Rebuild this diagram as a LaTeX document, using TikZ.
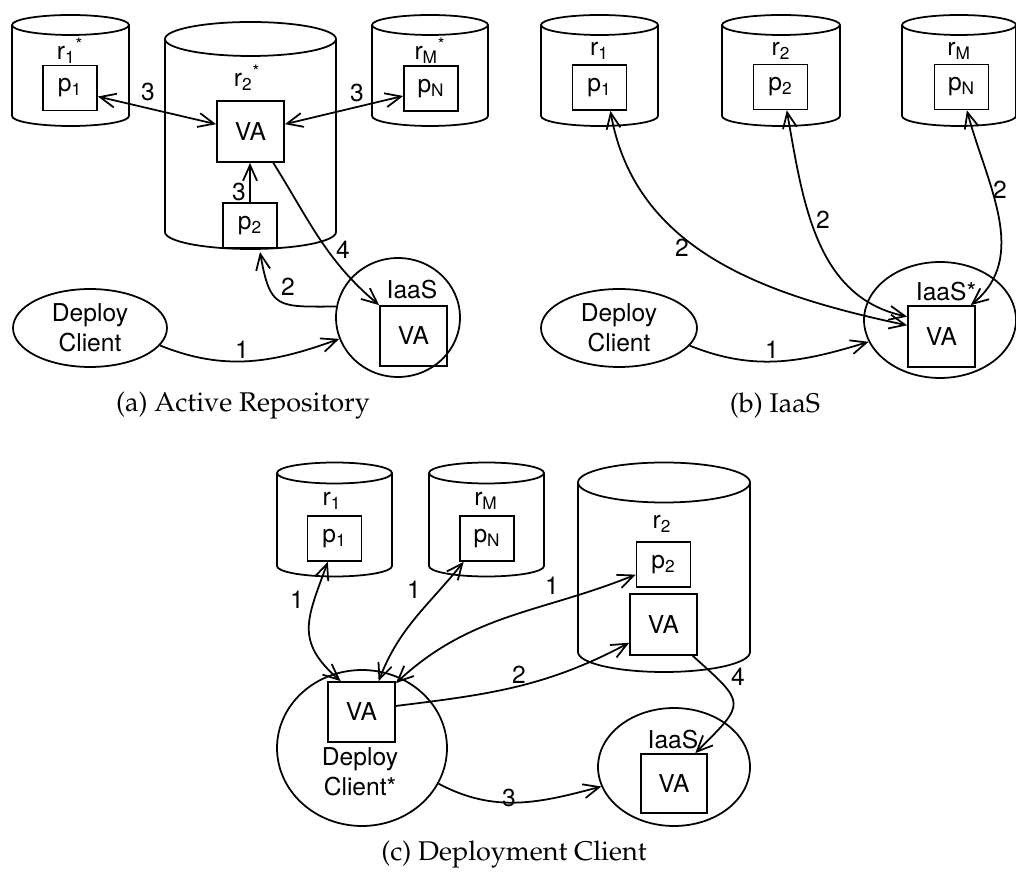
\documentclass[tikz,border=0pt]{standalone}
\usepackage[T1]{fontenc}
\usepackage{fontspec}
\setsansfont{TeX Gyre Heros}
\usetikzlibrary{arrows.meta}
\usetikzlibrary{shapes.geometric}

\newcommand{\repo}[5]{%
  \draw[repoline] (#1-#4,#2) -- (#1-#4,#3)
    arc[start angle=180,end angle=360,x radius=#4*0.02cm,y radius=#5*0.02cm] -- (#1+#4,#2);
  \draw[repoline] (#1,#2) ellipse[x radius=#4*0.02cm,y radius=#5*0.02cm];
}
\newcommand{\capfont}{\fontencoding{T1}\fontfamily{ppl}\fontsize{15.4}{18}\selectfont}

\tikzset{
  repoline/.style={line width=1pt},
  pbox/.style={draw, line width=1pt, minimum width=1.08cm, minimum height=0.9cm, inner sep=0pt},
  vabox/.style={draw, line width=1pt, minimum width=1.34cm, minimum height=1.22cm, inner sep=0pt},
  client/.style={draw, ellipse, line width=1pt, inner sep=0pt, align=center},
  conn/.style={line width=1pt, -{Straight Barb[length=9pt,width=8pt]}},
  both/.style={line width=1pt, {Straight Barb[length=9pt,width=8pt]}-{Straight Barb[length=9pt,width=8pt]}},
  lbl/.style={inner sep=0pt},
  figcap/.style={font=\capfont, inner sep=0pt}
}

\begin{document}
\begin{tikzpicture}[x=0.02cm, y=0.02cm, font=\fontsize{14}{17}\selectfont\sffamily]
\useasboundingbox (0,0) rectangle (1016,872);

% (a) active repository
\repo{70.5}{847}{756}{58.5}{10}
\repo{250.5}{833}{640}{85.5}{17}
\repo{430}{847}{756}{58}{10}
\node[lbl] (tr1a) at (70,821) {r\textsubscript{1}\textsuperscript{*}};
\node[lbl] (tr2a) at (247,794) {r\textsubscript{2}\textsuperscript{*}};
\node[lbl] (trMa) at (430,821) {r\textsubscript{M}\textsuperscript{*}};
\node[pbox] (p1a) at (70,784) {p\textsubscript{1}};
\node[vabox] (VAa) at (250.5,740.5) {VA};
\node[pbox] (p2a) at (250,646.5) {p\textsubscript{2}};
\node[pbox] (pNa) at (431,783.5) {p\textsubscript{N}};
\coordinate (r2abot) at (260,620);
\node[client, minimum width=3.08cm, minimum height=1.56cm] (DCa) at (90,544) {Deploy\\Client};
\node[client, minimum width=2.48cm, minimum height=2.38cm] (IaaSa) at (398,554.5) {};
\node[lbl] (tIaaSa) at (412,582) {IaaS};
\node[vabox, minimum height=1.2cm] (IVAa) at (413.5,536) {VA};

\draw[both] (p1a.-17) -- (VAa.168);
\draw[both] (VAa.12) -- (pNa.195);
\draw[conn] (p2a.north) -- (p2a.north |- VAa.south);
\draw[conn] (VAa.-54) to[out=-58,in=140] (IVAa.north west);
\draw[conn] (IaaSa.170) to[out=180,in=-80,looseness=1.6] (r2abot);
\draw[conn] (DCa.-14) to[out=-22,in=200] (IaaSa.200);
\node[lbl] (l3a) at (148,780) {3};
\node[lbl] (l3b) at (357,779) {3};
\node[lbl] (l3c) at (239,680) {3};
\node[lbl] (l4a) at (343,622) {4};
\node[lbl] (l2a) at (288,585) {2};
\node[lbl] (l1a) at (242,522) {1};
\node[figcap] (capa) at (243,466) {(a) Active Repository};

% (b) IaaS
\repo{599.5}{847}{756}{58.5}{10}
\repo{781}{847}{756}{59}{10}
\repo{959}{847}{756}{57}{10}
\node[lbl] (tr1b) at (599.5,821) {r\textsubscript{1}};
\node[lbl] (tr2b) at (781,821) {r\textsubscript{2}};
\node[lbl] (trMb) at (959,821) {r\textsubscript{M}};
\node[pbox] (p1b) at (599.5,784.5) {p\textsubscript{1}};
\node[pbox] (p2b) at (780.5,785) {p\textsubscript{2}};
\node[pbox] (pNb) at (961.5,785) {p\textsubscript{N}};
\node[client, minimum width=3.12cm, minimum height=1.56cm] (DCb) at (619,544) {Deploy\\Client};
\node[client, minimum width=3.04cm, minimum height=2.32cm] (IaaSb) at (940,552) {};
\node[lbl] (tIaaSb) at (946,580) {IaaS*};
\node[vabox] (VAb) at (941.5,535.5) {VA};

\draw[both] (p1b.-65) to[out=-80,in=168] (VAb.162);
\draw[both] (p2b.-75) to[out=-80,in=168] (VAb.150);
\draw[both] (pNb.-77) to[out=-75,in=39] (VAb.47);
\draw[conn] (DCb.-14) to[out=-22,in=197] (IaaSb.197);
\node[lbl] (l2b) at (682,624) {2};
\node[lbl] (l2c) at (823,652) {2};
\node[lbl] (l2d) at (1000,682) {2};
\node[lbl] (l1b) at (772,522) {1};
\node[figcap] (capb) at (775,466) {(b) IaaS};

% (c) deployment client
\repo{334.5}{399}{306}{57.5}{10.5}
\repo{486.5}{399}{306}{57.5}{10.5}
\repo{664}{389.5}{220}{86}{20}
\node[lbl] (tr1c) at (332,371) {r\textsubscript{1}};
\node[lbl] (trMc) at (486,371) {r\textsubscript{M}};
\node[lbl] (tr2c) at (662,348) {r\textsubscript{2}};
\node[pbox] (p1c) at (334.5,333.5) {p\textsubscript{1}};
\node[pbox] (pNc) at (487,333.5) {p\textsubscript{N}};
\node[pbox] (p2c) at (663.5,307.5) {p\textsubscript{2}};
\node[vabox] (VAr2) at (663.5,247.5) {VA};
\node[client, minimum width=3.4cm, minimum height=3.12cm] (DCc) at (362,124) {};
\node[vabox, minimum height=1.2cm] (VAdc) at (361.5,160) {VA};
\node[lbl, align=center] (tDCc) at (360,100) {Deploy\\Client*};
\node[client, minimum width=3.04cm, minimum height=2.36cm] (IaaSc) at (674,105) {};
\node[lbl] (tIaaSc) at (673,132) {IaaS};
\node[vabox, minimum width=1.32cm, minimum height=1.18cm] (IVAc) at (674,88.5) {VA};

\draw[both] (p1c.-106) to[out=-110,in=139,looseness=1.3] (VAdc.124);
\draw[both] (pNc.-135) to[out=-129,in=69] (VAdc.61);
\draw[both] (p2c.200) to[out=202,in=43] (VAdc.40);
\draw[conn] (VAdc.10) to[out=7,in=208] (VAr2.208);
\draw[conn] (VAr2.-47) to[out=-42,in=45,looseness=1.9] (IVAc.55);
\draw[conn] (DCc.-25) to[out=-28,in=195] (IaaSc.195);
\node[lbl] (l1c) at (297,272) {1};
\node[lbl] (l1d) at (414,282) {1};
\node[lbl] (l1e) at (552,286) {1};
\node[lbl] (l2e) at (519,197) {2};
\node[lbl] (l4b) at (738,195) {4};
\node[lbl] (l3d) at (509,74) {3};
\node[figcap] (capc) at (514,17) {(c) Deployment Client};
\end{tikzpicture}
\end{document}
